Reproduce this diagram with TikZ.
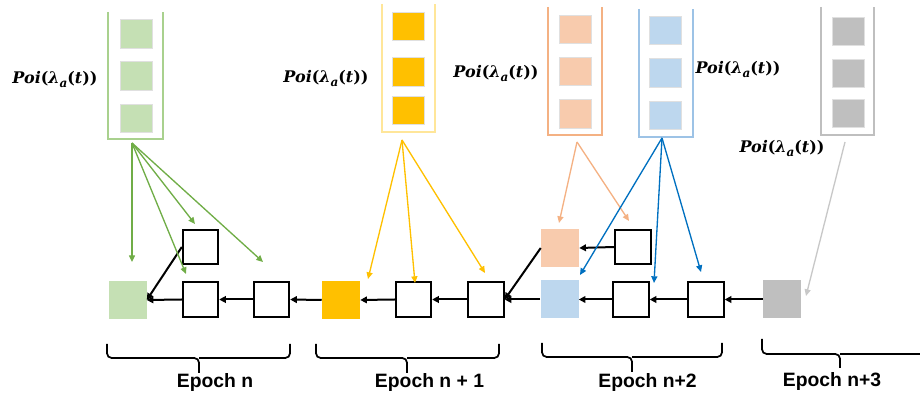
\documentclass[tikz,border=0pt]{standalone}
\usepackage{fontspec}
\usetikzlibrary{arrows.meta}
\newfontfamily\arialfont{Liberation Sans}
\newfontfamily\poifont{DejaVu Serif}
\newcommand\PoiLabel{{\poifont\bfseries\itshape Poi}{\poifont\bfseries(}{\poifont\bfseries\itshape λ}\raisebox{-0.25em}{\poifont\bfseries\itshape\fontsize{9}{10}\selectfont a}{\poifont\bfseries(}{\poifont\bfseries\itshape t}{\poifont\bfseries))}}
\definecolor{greenF}{HTML}{C5E0B4}
\definecolor{greenL}{HTML}{70AD47}
\definecolor{greenC}{HTML}{A9D18E}
\definecolor{yellowF}{HTML}{FFC000}
\definecolor{yellowC}{HTML}{FFE699}
\definecolor{peachF}{HTML}{F8CBAD}
\definecolor{peachC}{HTML}{F4B183}
\definecolor{blueF}{HTML}{BDD7EE}
\definecolor{blueC}{HTML}{9DC3E6}
\definecolor{blueL}{HTML}{0070C0}
\definecolor{grayF}{HTML}{BFBFBF}
\definecolor{grayL}{HTML}{C8C8C8}
\tikzset{
  wbox/.style={draw=black, line width=1.5pt, fill=white, minimum width=26.5pt, minimum height=26pt, inner sep=0pt},
  fbox/.style={fill=#1, minimum width=28.5pt, minimum height=28.5pt, inner sep=0pt},
  cbox/.style={fill=#1, draw=black!12, line width=0.5pt, minimum width=24pt, minimum height=21.5pt, inner sep=0pt},
  cont/.style={draw=#1, line width=0.9pt},
  carr/.style={draw=#1, line width=1pt, -{Triangle[length=5pt,width=4.5pt]}},
  barr/.style={draw=black, line width=1.5pt, -{Triangle[length=5pt,width=5pt]}},
  poi/.style={inner sep=0pt, font=\fontsize{12}{14}\selectfont},
  epoch/.style={inner sep=0pt, font=\arialfont\bfseries\fontsize{14.5}{16}\selectfont},
  brace/.style={draw=black, line width=1.3pt, rounded corners=3.5pt},
}
\begin{document}
\begin{tikzpicture}[x=0.75pt,y=-0.75pt]
\useasboundingbox (0,0) rectangle (920,398);
% containers
\draw[cont=greenC] (108,12) -- (108,139) -- (163,139) -- (163,12);
\node[cbox=greenF] (gc1) at (136,34) {};
\node[cbox=greenF] (gc2) at (136,76) {};
\node[cbox=greenF] (gc3) at (136,118.5) {};
\draw[cont=yellowC] (382,4) -- (382,132) -- (435,132) -- (435,4);
\node[cbox=yellowF] (yc1) at (408.5,26.5) {};
\node[cbox=yellowF] (yc2) at (408.5,72) {};
\node[cbox=yellowF] (yc3) at (408.5,110.5) {};
\draw[cont=peachC] (548,7) -- (548,135) -- (602,135) -- (602,7);
\node[cbox=peachF] (pc1) at (575.5,29.5) {};
\node[cbox=peachF] (pc2) at (575.5,71.5) {};
\node[cbox=peachF] (pc3) at (575.5,114) {};
\draw[cont=blueC] (639,9) -- (639,137) -- (693,137) -- (693,9);
\node[cbox=blueF] (bc1) at (665.5,30.5) {};
\node[cbox=blueF] (bc2) at (665.5,73) {};
\node[cbox=blueF] (bc3) at (665.5,115.5) {};
\draw[cont=grayF] (821,7) -- (821,135) -- (874,135) -- (874,7);
\node[cbox=grayF] (rc1) at (848.5,31.5) {};
\node[cbox=grayF] (rc2) at (848.5,73.5) {};
\node[cbox=grayF] (rc3) at (848.5,113.5) {};
% labels
\node[poi] (t1) at (55,80) {\PoiLabel};
\node[poi] (t2) at (326,79) {\PoiLabel};
\node[poi] (t3) at (496,74) {\PoiLabel};
\node[poi] (t4) at (738,70) {\PoiLabel};
\node[poi] (t5) at (782,149) {\PoiLabel};
% chain nodes
\node[fbox=greenF] (g0) at (127.5,300) {};
\node[wbox] (w1u) at (200.5,247) {};
\node[wbox] (w1) at (200.5,299.5) {};
\node[wbox] (w2) at (271.5,299.5) {};
\node[fbox=yellowF] (y0) at (341,300) {};
\node[wbox] (w3) at (413.5,299.5) {};
\node[wbox] (w4) at (486,299.5) {};
\node[fbox=blueF] (b0) at (559.5,299.5) {};
\node[fbox=peachF] (p0) at (560,248) {};
\node[wbox] (w5u) at (633,247) {};
\node[wbox] (w5) at (631,299.5) {};
\node[wbox] (w6) at (706,299.5) {};
\node[fbox=grayF] (r0) at (782,299.5) {};
% black arrows
\draw[barr] (w1.west) -- (g0.east);
\draw[barr] (w1u.west) -- (g0.east);
\draw[barr] (w2.west) -- (w1.east);
\draw[barr] (y0.west) -- (w2.east);
\draw[barr] (w3.west) -- (y0.east);
\draw[barr] (w4.west) -- (w3.east);
\draw[barr] (b0.west) -- (w4.east);
\draw[barr] (p0.west) -- (w4.east);
\draw[barr] (w5u.west) -- (p0.east);
\draw[barr] (w5.west) -- (b0.east);
\draw[barr] (w6.west) -- (w5.east);
\draw[barr] (r0.west) -- (w6.east);
% colored arrows
\coordinate (gs) at (132,143);
\coordinate (ga1) at (132,262);
\coordinate (ga2) at (186,274);
\coordinate (ga3) at (195,224);
\coordinate (ga4) at (263,262);
\foreach \t in {ga1,ga2,ga3,ga4} \draw[carr=greenL] (gs) -- (\t);
\coordinate (ys) at (402,140);
\coordinate (ya1) at (368,279);
\coordinate (ya2) at (415,283);
\coordinate (ya3) at (485,273);
\foreach \t in {ya1,ya2,ya3} \draw[carr=yellowF] (ys) -- (\t);
\coordinate (ps) at (577,142);
\coordinate (pa1) at (559,223);
\coordinate (pa2) at (629,221);
\foreach \t in {pa1,pa2} \draw[carr=peachC] (ps) -- (\t);
\coordinate (bs) at (662,138);
\coordinate (ba1) at (580,275);
\coordinate (ba2) at (654,283);
\coordinate (ba3) at (701,272);
\foreach \t in {ba1,ba2,ba3} \draw[carr=blueL] (bs) -- (\t);
\coordinate (rs) at (845,142);
\coordinate (ra1) at (806,296);
\draw[carr=grayL] (rs) -- (ra1);
% braces
\draw[brace] (107,344) -- (107,358) -- (199,358) -- (199,373);
\draw[brace] (290,344) -- (290,358) -- (199,358);
\draw[brace] (316,344) -- (316,358) -- (407,358) -- (407,373);
\draw[brace] (499,344) -- (499,358) -- (407,358);
\draw[brace] (542,343) -- (542,357) -- (632,357) -- (632,372);
\draw[brace] (722,343) -- (722,357) -- (632,357);
\draw[brace] (762,339) -- (762,354) -- (840,354) -- (840,368);
\draw[brace] (935,354) -- (840,354);
% epoch labels
\node[epoch] (e1) at (215,383) {Epoch n};
\node[epoch] (e2) at (429.5,383) {Epoch n + 1};
\node[epoch] (e3) at (647.5,383) {Epoch n+2};
\node[epoch] (e4) at (832,382) {Epoch n+3};
\end{tikzpicture}
\end{document}
